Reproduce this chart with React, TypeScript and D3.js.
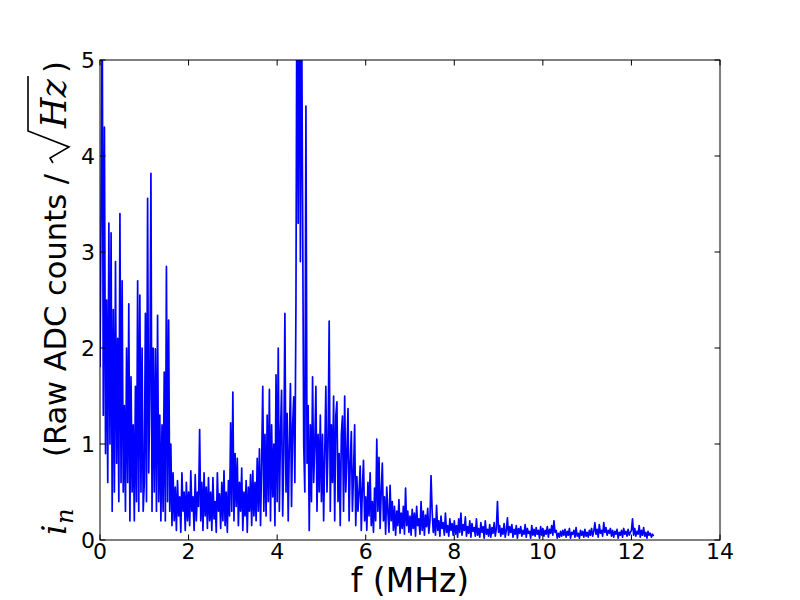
import React from "react";
import * as d3 from "d3";

// Frequency step of the sampled spectrum (MHz)
const FREQ_STEP = 0.025;

// Noise spectral density values (rows of 0.5 MHz)
const spectrum: number[] = [
  // 0.0 - 0.475
  1.8, 3.4, 5.6, 1.3, 4.3, 0.9, 2.5, 0.6, 3.3, 1.0, 3.2, 0.3, 2.4, 0.5, 2.9, 0.8, 2.1, 0.4, 3.4, 0.6,
  // 0.5 - 0.975
  2.7, 0.5, 1.4, 0.3, 2.0, 0.6, 2.46, 0.2, 1.7, 0.5, 1.2, 0.2, 1.6, 0.4, 2.7, 0.3, 2.55, 0.5, 2.0, 0.3,
  // 1.0 - 1.475
  0.6, 2.36, 0.4, 3.56, 0.7, 1.5, 3.82, 0.3, 2.0, 0.5, 1.99, 0.3, 2.34, 0.4, 1.3, 0.2, 1.2, 0.3, 1.75, 0.2,
  // 1.5 - 1.975
  2.85, 0.4, 2.29, 0.3, 1.0, 0.15, 0.7, 0.2, 0.55, 0.1, 0.62, 0.25, 0.45, 0.08, 0.7, 0.3, 0.5, 0.1, 0.6, 0.2,
  // 2.0 - 2.475
  0.5, 0.15, 0.72, 0.3, 0.45, 0.1, 0.68, 0.2, 0.5, 0.35, 1.15, 0.2, 0.6, 0.1, 0.7, 0.25, 0.55, 0.12, 0.65, 0.2,
  // 2.5 - 2.975
  0.5, 0.1, 0.65, 0.22, 0.4, 0.08, 0.7, 0.3, 0.48, 0.12, 0.6, 0.2, 0.72, 0.15, 0.5, 0.08, 0.62, 0.25, 1.22, 0.3,
  // 3.0 - 3.475
  1.54, 0.2, 0.9, 0.35, 0.85, 0.15, 0.6, 0.3, 0.75, 0.1, 0.5, 0.25, 0.62, 0.08, 0.55, 0.3, 0.68, 0.15, 0.72, 0.25,
  // 3.5 - 3.975
  0.6, 0.2, 0.85, 0.3, 0.95, 0.15, 0.8, 1.6, 0.3, 1.1, 0.25, 1.3, 0.4, 1.57, 0.2, 1.2, 0.45, 1.0, 0.15, 1.72,
  // 4.0 - 4.475
  0.4, 2.0, 0.3, 1.1, 1.56, 0.25, 0.9, 2.36, 0.5, 1.32, 0.2, 1.0, 1.63, 0.35, 1.2, 1.49, 0.6, 2.5, 6.5, 3.3,
  // 4.5 - 4.975
  6.8, 2.9, 5.8, 3.49, 1.0, 0.5, 4.52, 0.8, 1.4, 0.1, 1.2, 0.4, 1.7, 0.6, 1.0, 1.6, 0.3, 1.1, 0.5, 1.3,
  // 5.0 - 5.475
  0.4, 1.1, 0.2, 0.9, 1.6, 0.5, 1.0, 2.28, 0.3, 1.2, 0.6, 1.5, 0.2, 1.3, 1.44, 0.4, 0.9, 0.15, 1.1, 1.29,
  // 5.5 - 5.975
  0.3, 1.5, 0.5, 0.9, 1.37, 0.2, 0.8, 1.13, 0.3, 0.7, 1.2, 0.15, 0.66, 0.3, 0.5, 0.77, 0.1, 0.55, 0.83, 0.2,
  // 6.0 - 6.475
  0.45, 0.1, 0.6, 0.25, 0.7, 0.15, 0.4, 0.08, 0.54, 0.2, 1.05, 0.3, 0.86, 0.12, 0.5, 0.8, 0.2, 0.45, 0.06, 0.55,
  // 6.5 - 6.975
  0.3, 0.08, 0.57, 0.2, 0.4, 0.1, 0.35, 0.05, 0.3, 0.15, 0.42, 0.07, 0.28, 0.12, 0.35, 0.06, 0.54, 0.15, 0.3, 0.08,
  // 7.0 - 7.475
  0.25, 0.05, 0.32, 0.12, 0.28, 0.04, 0.35, 0.15, 0.22, 0.06, 0.4, 0.1, 0.3, 0.05, 0.26, 0.14, 0.33, 0.07, 0.2, 0.67,
  // 7.5 - 7.975
  0.3, 0.08, 0.22, 0.05, 0.36, 0.1, 0.2, 0.04, 0.25, 0.12, 0.18, 0.05, 0.28, 0.08, 0.15, 0.04, 0.22, 0.1, 0.17, 0.05,
  // 8.0 - 8.475
  0.2, 0.06, 0.15, 0.03, 0.22, 0.08, 0.28, 0.05, 0.16, 0.1, 0.24, 0.04, 0.14, 0.07, 0.2, 0.03, 0.17, 0.09, 0.13, 0.04,
  // 8.5 - 8.975
  0.22, 0.05, 0.12, 0.03, 0.18, 0.08, 0.14, 0.02, 0.2, 0.06, 0.11, 0.04, 0.16, 0.03, 0.13, 0.07, 0.18, 0.04, 0.12, 0.4,
  // 9.0 - 9.475
  0.08, 0.15, 0.04, 0.12, 0.06, 0.17, 0.03, 0.1, 0.23, 0.05, 0.14, 0.08, 0.16, 0.03, 0.11, 0.06, 0.15, 0.02, 0.12, 0.07,
  // 9.5 - 9.975
  0.14, 0.04, 0.1, 0.06, 0.16, 0.03, 0.12, 0.07, 0.09, 0.02, 0.15, 0.05, 0.11, 0.04, 0.13, 0.06, 0.1, 0.02, 0.14, 0.05,
  // 10.0 - 10.475
  0.12, 0.04, 0.1, 0.06, 0.14, 0.03, 0.11, 0.07, 0.15, 0.05, 0.2, 0.08, 0.1, 0.02, 0.07, 0.03, 0.09, 0.04, 0.1, 0.05,
  // 10.5 - 10.975
  0.11, 0.03, 0.09, 0.05, 0.12, 0.02, 0.08, 0.06, 0.1, 0.03, 0.13, 0.04, 0.07, 0.02, 0.1, 0.05, 0.09, 0.03, 0.11, 0.04,
  // 11.0 - 11.475
  0.08, 0.03, 0.1, 0.05, 0.12, 0.04, 0.09, 0.18, 0.06, 0.11, 0.03, 0.16, 0.07, 0.1, 0.04, 0.18, 0.08, 0.13, 0.05, 0.1,
  // 11.5 - 11.975
  0.07, 0.12, 0.04, 0.1, 0.03, 0.09, 0.06, 0.11, 0.02, 0.08, 0.05, 0.1, 0.03, 0.12, 0.06, 0.09, 0.04, 0.11, 0.05, 0.08,
  // 12.0 - 12.5
  0.1, 0.22, 0.05, 0.12, 0.04, 0.09, 0.06, 0.15, 0.03, 0.1, 0.05, 0.13, 0.04, 0.08, 0.02, 0.09, 0.05, 0.07, 0.03, 0.06,
  0.04,
];

const xTicks = [0, 2, 4, 6, 8, 10, 12, 14];
const yTicks = [0, 1, 2, 3, 4, 5];

const W = 800;
const H = 600;
const M = { left: 100, right: 80, top: 60, bottom: 60 };

export default function App() {
  const x = d3.scaleLinear().domain([0, 14]).range([M.left, W - M.right]);
  const y = d3.scaleLinear().domain([0, 5]).range([H - M.bottom, M.top]);
  const line = d3
    .line<number>()
    .x((_, i) => x(i * FREQ_STEP))
    .y((d) => y(d));
  const path = line(spectrum) || "";
  const x0 = x(0), x1 = x(14), y0 = y(0), y1 = y(5);
  const tickLen = 5.5;
  const font = "'DejaVu Sans', sans-serif";
  const serif = "'DejaVu Serif', serif";
  const tickFs = 22;
  const labelFs = 33;

  return (
    <div style={{ position: "fixed", left: 0, top: 0 }}>
      <svg width={W} height={H} style={{ display: "block", background: "#fff" }}>
        <defs>
          <clipPath id="plotclip">
            <rect x={x0} y={y1} width={x1 - x0} height={y0 - y1} />
          </clipPath>
        </defs>
        <rect x={0} y={0} width={W} height={H} fill="#fff" />
        <path
          d={path}
          fill="none"
          stroke="#0000ff"
          strokeWidth={1.7}
          strokeLinejoin="round"
          clipPath="url(#plotclip)"
        />
        {/* ticks */}
        {xTicks.map((t) => (
          <g key={"xt" + t}>
            <line x1={x(t)} x2={x(t)} y1={y0} y2={y0 - tickLen} stroke="#000" strokeWidth={1} />
            <line x1={x(t)} x2={x(t)} y1={y1} y2={y1 + tickLen} stroke="#000" strokeWidth={1} />
            <text
              x={x(t)}
              y={y0 + 19}
              textAnchor="middle"
              fontFamily={font}
              fontSize={tickFs}
              fill="#000"
            >
              {t}
            </text>
          </g>
        ))}
        {yTicks.map((t) => (
          <g key={"yt" + t}>
            <line x1={x0} x2={x0 + tickLen} y1={y(t)} y2={y(t)} stroke="#000" strokeWidth={1} />
            <line x1={x1} x2={x1 - tickLen} y1={y(t)} y2={y(t)} stroke="#000" strokeWidth={1} />
            <text
              x={x0 - 5}
              y={y(t)}
              dy="0.36em"
              textAnchor="end"
              fontFamily={font}
              fontSize={tickFs}
              fill="#000"
            >
              {t}
            </text>
          </g>
        ))}
        <rect x={x0} y={y1} width={x1 - x0} height={y0 - y1} fill="none" stroke="#000" strokeWidth={1} />
        {/* x label */}
        <text x={(x0 + x1) / 2} y={592} textAnchor="middle" fontFamily={font} fontSize={labelFs} fill="#000">
          f (MHz)
        </text>
        {/* y label, drawn along the rotated baseline */}
        <g transform={`translate(66, 537) rotate(-90)`}>
          <text fontSize={30.5} fill="#000" fontFamily={font}>
            <tspan x={2} y={0} fontFamily={serif} fontStyle="italic" fontSize={33}>i</tspan>
            <tspan x={13} y={7} fontFamily={serif} fontStyle="italic" fontSize={24}>n</tspan>
            <tspan x={80} y={0}>(Raw ADC counts /</tspan>
            <tspan x={409} y={0} fontFamily={serif} fontStyle="italic" fontSize={35}>Hz</tspan>
            <tspan x={464} y={0}>)</tspan>
          </text>
          <path
            d="M374,-13 L379,-16 L390,3 L406,-38 L461,-38"
            fill="none"
            stroke="#000"
            strokeWidth={1.6}
            strokeLinejoin="miter"
          />
        </g>
      </svg>
    </div>
  );
}
